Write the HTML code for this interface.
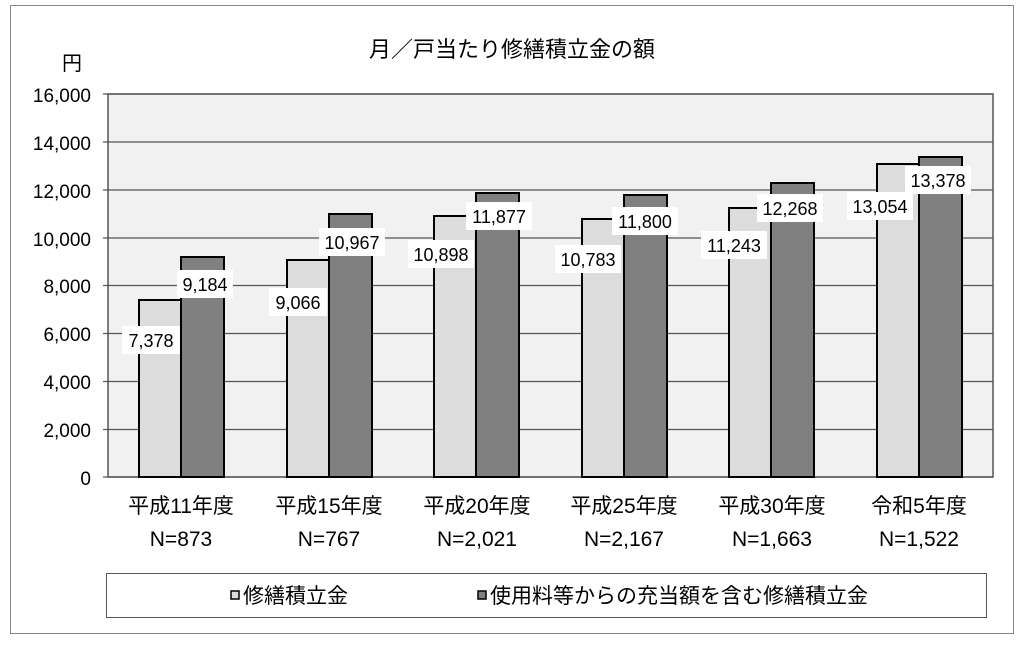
<!DOCTYPE html><html><head><meta charset="utf-8"><style>body{margin:0;background:#fff}</style></head><body>
<svg width="1024" height="644" xmlns="http://www.w3.org/2000/svg" font-family="'Liberation Sans','Noto Sans CJK JP',sans-serif">
<rect x="10.5" y="5.5" width="1003" height="628" fill="#fff" stroke="#888"/>
<text x="512" y="57" font-size="22" text-anchor="middle">月／戸当たり修繕積立金の額</text>
<text x="72" y="70" font-size="20" text-anchor="middle">円</text>
<rect x="108" y="94" width="885" height="383" fill="#f1f1f1" stroke="#555" stroke-width="1.5"/>
<g stroke="#555" stroke-width="1.2">
<line x1="103" y1="94" x2="993" y2="94"/><line x1="103" y1="142" x2="993" y2="142"/><line x1="103" y1="190" x2="993" y2="190"/><line x1="103" y1="238" x2="993" y2="238"/><line x1="103" y1="285.5" x2="993" y2="285.5"/><line x1="103" y1="333.5" x2="993" y2="333.5"/><line x1="103" y1="381.5" x2="993" y2="381.5"/><line x1="103" y1="429.5" x2="993" y2="429.5"/><line x1="103" y1="477" x2="993" y2="477"/>
</g>
<g font-size="19" text-anchor="end">
<text x="91" y="102">16,000</text><text x="91" y="150">14,000</text><text x="91" y="198">12,000</text><text x="91" y="246">10,000</text><text x="91" y="293">8,000</text><text x="91" y="341">6,000</text><text x="91" y="389">4,000</text><text x="91" y="437">2,000</text><text x="91" y="485">0</text>
</g>
<g stroke="#000" stroke-width="2">
<rect x="139" y="300" width="42" height="177" fill="#dcdcdc"/><rect x="181" y="257" width="43" height="220" fill="#808080"/>
<rect x="287" y="260" width="42" height="217" fill="#dcdcdc"/><rect x="329" y="214" width="43" height="263" fill="#808080"/>
<rect x="434" y="216" width="42" height="261" fill="#dcdcdc"/><rect x="476" y="193" width="43" height="284" fill="#808080"/>
<rect x="582" y="219" width="42" height="258" fill="#dcdcdc"/><rect x="624" y="195" width="43" height="282" fill="#808080"/>
<rect x="729" y="208" width="42" height="269" fill="#dcdcdc"/><rect x="771" y="183" width="43" height="294" fill="#808080"/>
<rect x="877" y="164" width="42" height="313" fill="#dcdcdc"/><rect x="919" y="157" width="43" height="320" fill="#808080"/>
</g>
<g font-size="18" text-anchor="middle">
<rect x="122" y="326" width="58" height="28" fill="#fff"/><text x="151" y="347">7,378</text>
<rect x="177" y="270" width="56" height="28" fill="#fff"/><text x="205" y="291">9,184</text>
<rect x="269" y="288" width="58" height="28" fill="#fff"/><text x="298" y="309">9,066</text>
<rect x="319" y="228" width="66" height="28" fill="#fff"/><text x="352" y="249">10,967</text>
<rect x="408" y="240" width="66" height="28" fill="#fff"/><text x="441" y="261">10,898</text>
<rect x="466" y="202" width="66" height="28" fill="#fff"/><text x="499" y="223">11,877</text>
<rect x="555" y="245" width="66" height="28" fill="#fff"/><text x="588" y="266">10,783</text>
<rect x="612" y="207" width="66" height="28" fill="#fff"/><text x="645" y="228">11,800</text>
<rect x="701" y="231" width="66" height="28" fill="#fff"/><text x="734" y="252">11,243</text>
<rect x="757" y="194" width="66" height="28" fill="#fff"/><text x="790" y="215">12,268</text>
<rect x="847" y="192" width="66" height="28" fill="#fff"/><text x="880" y="213">13,054</text>
<rect x="905" y="166" width="66" height="28" fill="#fff"/><text x="938" y="187">13,378</text>
</g>
<g font-size="21" text-anchor="middle">
<text x="181" y="513">平成11年度</text><text x="181" y="546">N=873</text>
<text x="329" y="513">平成15年度</text><text x="329" y="546">N=767</text>
<text x="477" y="513">平成20年度</text><text x="477" y="546">N=2,021</text>
<text x="624" y="513">平成25年度</text><text x="624" y="546">N=2,167</text>
<text x="772" y="513">平成30年度</text><text x="772" y="546">N=1,663</text>
<text x="919" y="513">令和5年度</text><text x="919" y="546">N=1,522</text>
</g>
<rect x="106.5" y="573.5" width="880" height="44" fill="#fff" stroke="#555"/>
<rect x="231" y="591" width="8" height="8" fill="#dcdcdc" stroke="#000" stroke-width="1.5"/>
<text x="243" y="603" font-size="21">修繕積立金</text>
<rect x="478" y="591" width="8" height="8" fill="#808080" stroke="#000" stroke-width="1.5"/>
<text x="490" y="603" font-size="21">使用料等からの充当額を含む修繕積立金</text>
</svg></body></html>
